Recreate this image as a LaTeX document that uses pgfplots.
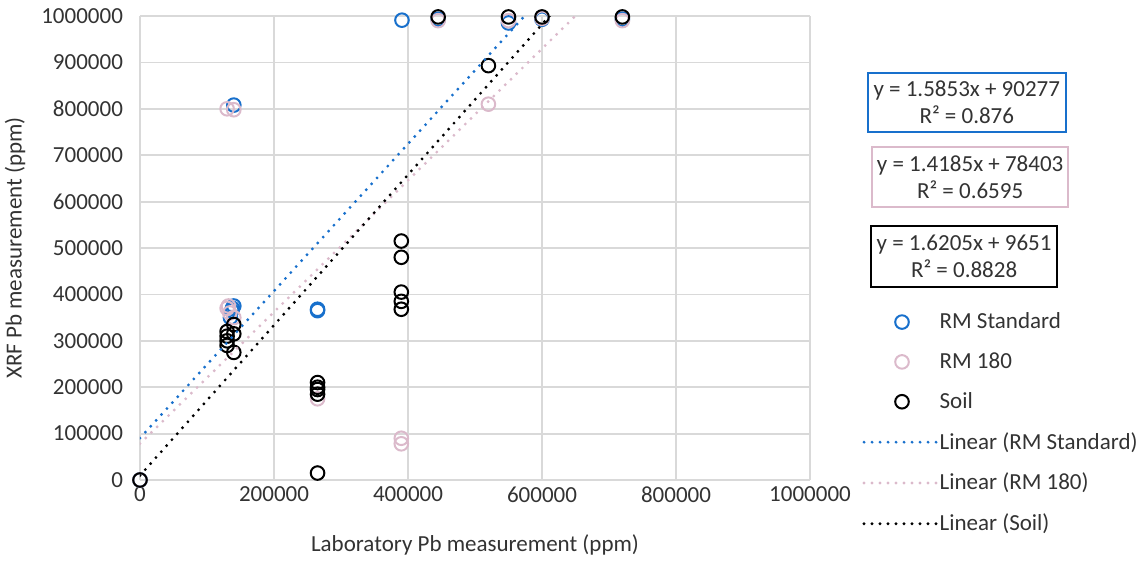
\documentclass[border=0pt]{standalone}
\usepackage{pgfplots}
\pgfplotsset{compat=1.18}
\usepackage{fontspec}
\setmainfont{Carlito}
\definecolor{rmblue}{RGB}{24,112,204}
\definecolor{rmpink}{RGB}{219,186,203}
\definecolor{gridgray}{RGB}{217,217,217}
\pgfplotsset{
  markleg/.style={legend image code/.code={\path (0pt,0pt) (36pt,0pt); \draw[##1] plot coordinates {(19pt,0pt)};}},
  lineleg/.style={legend image code/.code={\draw[##1] (0pt,0pt) -- (36pt,0pt);}},
}
\begin{document}
\begin{tikzpicture}
\path[use as bounding box] (-70pt,-41.5pt) rectangle (499.5pt,240pt);
\begin{axis}[
  at={(0,0)}, anchor=south west,
  scale only axis, width=335pt, height=232pt,
  xmin=0, xmax=1000000, ymin=0, ymax=1000000,
  xtick={0,200000,400000,600000,800000,1000000},
  ytick={0,100000,200000,300000,400000,500000,600000,700000,800000,900000,1000000},
  scaled ticks=false,
  /pgf/number format/fixed, /pgf/number format/1000 sep={},
  /pgf/number format/assume math mode=true,
  tick label style={font=\fontsize{11.5}{13}\selectfont, text=black!80},
  yticklabel style={xshift=-5pt},
  grid=major, major grid style={gridgray, line width=0.9pt},
  axis line style={draw=none}, tick style={draw=none},
  xlabel={Laboratory Pb measurement (ppm)},
  ylabel={XRF Pb measurement (ppm)},
  label style={font=\fontsize{11.5}{13}\selectfont, text=black!80},
  xlabel style={at={(axis description cs:0.5,-0.140)}, anchor=center},
  ylabel style={at={(axis description cs:-0.1866,0.5)}, anchor=center},
  clip mode=individual,
  legend style={draw=none, fill=none, inner sep=0pt, at={(1.0776,0.366)}, anchor=north west,
    font=\fontsize{11.5}{13}\selectfont, text=black!80, row sep=8.5pt,
    nodes={inner sep=1pt}},
  legend cell align=left,
]
\addplot[only marks, mark=o, mark size=3.4pt, rmblue, line width=1pt, markleg]
coordinates {
(0,0) (140000,808000) (135000,350000) (137000,365000) (140000,375000) (138000,370000)
(265000,365000) (265000,368000) (391000,991000) (445000,993000) (550000,985000)
(600000,993000) (720000,993000)
};
\addlegendentry{RM Standard}
\addplot[only marks, mark=o, mark size=3.4pt, rmpink, line width=1pt, markleg]
coordinates {
(0,0) (130000,800000) (130000,370000) (132000,375000) (134000,360000)
(140000,798000) (140000,350000) (265000,175000) (390000,90000) (390000,78000)
(445000,990000) (520000,810000) (550000,990000) (600000,995000) (720000,990000)
};
\addlegendentry{RM 180}
\addplot[only marks, mark=o, mark size=3.4pt, black, line width=1pt, markleg]
coordinates {
(0,0) (130000,290000) (130000,300000) (130000,310000) (130000,320000)
(140000,275000) (140000,315000) (140000,335000)
(265000,185000) (265000,195000) (265000,200000) (265000,210000) (265000,15000)
(390000,515000) (390000,480000) (390000,405000) (390000,385000) (390000,368000)
(445000,998000) (520000,893000) (550000,998000) (600000,998000) (720000,998000)
};
\addlegendentry{Soil}
\addplot[rmblue, line width=1.6pt, dash pattern=on 0pt off 4pt, line cap=round, lineleg]
coordinates {(0,90277) (720000,1231693)};
\addlegendentry{Linear (RM Standard)}
\addplot[rmpink, line width=1.6pt, dash pattern=on 0pt off 4pt, line cap=round, lineleg]
coordinates {(0,78403) (720000,1099723)};
\addlegendentry{Linear (RM 180)}
\addplot[black, line width=1.6pt, dash pattern=on 0pt off 4pt, line cap=round, lineleg]
coordinates {(0,9651) (720000,1176411)};
\addlegendentry{Linear (Soil)}
\node[draw=rmblue, line width=0.8pt, fill=white, align=center, text=black!80,
  font=\fontsize{11.5}{13.5}\selectfont, minimum width=99pt, minimum height=29.5pt, inner sep=2pt]
  at (rel axis cs:1.234,0.814) {y = 1.5853x + 90277\\R² = 0.876};
\node[draw=rmpink, line width=0.8pt, fill=white, align=center, text=black!80,
  font=\fontsize{11.5}{13.5}\selectfont, minimum width=98pt, minimum height=30pt, inner sep=2pt]
  at (rel axis cs:1.239,0.653) {y = 1.4185x + 78403\\R² = 0.6595};
\node[draw=black, line width=0.8pt, fill=white, align=center, text=black!80,
  font=\fontsize{11.5}{13.5}\selectfont, minimum width=93pt, minimum height=30.5pt, inner sep=2pt]
  at (rel axis cs:1.230,0.482) {y = 1.6205x + 9651\\R² = 0.8828};
\end{axis}
\end{tikzpicture}
\end{document}
